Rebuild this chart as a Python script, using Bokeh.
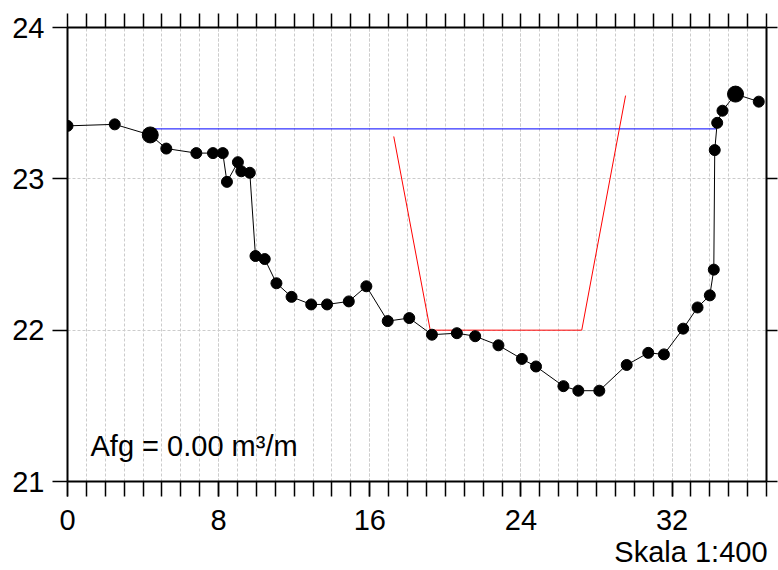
from bokeh.plotting import figure
from bokeh.models import Range1d, LinearAxis, SingleIntervalTicker, Label, Grid, FixedTicker
from bokeh.embed import file_html
from bokeh.resources import INLINE

# ---- data ----
dist = [0, 2.5, 4.38, 5.23, 6.82, 7.70, 8.22, 8.44, 9.02, 9.20, 9.65, 9.95, 10.44,
        11.06, 11.86, 12.90, 13.74, 14.89, 15.82, 16.95, 18.09, 19.29, 20.61, 21.58,
        22.81, 24.05, 24.80, 26.25, 27.04, 28.15, 29.60, 30.74, 31.57, 32.59, 33.35,
        34.00, 34.21, 34.26, 34.39, 34.67, 35.36, 36.59]
elev = [23.35, 23.36, 23.29, 23.20, 23.17, 23.17, 23.17, 22.98, 23.11, 23.05, 23.04,
        22.49, 22.47, 22.31, 22.22, 22.17, 22.17, 22.19, 22.29, 22.06, 22.08, 21.97,
        21.98, 21.96, 21.90, 21.81, 21.76, 21.63, 21.60, 21.60, 21.77, 21.85, 21.84,
        22.01, 22.15, 22.23, 22.40, 23.19, 23.37, 23.45, 23.56, 23.51]
key_points = [2, 40]          # indices of the larger markers
water_x = [4.38, 34.37]
water_level = 23.33
design_x = [17.27, 19.20, 27.22, 29.54]
design_y = [23.28, 22.00, 22.00, 23.55]
x_labels = [0, 8, 16, 24, 32]
y_ticks = [21, 22, 23, 24]
unit_ticks = list(range(0, 38))
annotation = "Afg = 0.00 m³/m"
scale_text = "Skala 1:400"
scale_anchor = 33   # x where the scale note is centred

FONT = "Liberation Sans"
FS = "29px"

p = figure(width=778, height=570, x_range=Range1d(0, 37), y_range=Range1d(21, 24),
           output_backend="svg", toolbar_location=None,
           x_axis_location=None, y_axis_location=None,
           min_border_left=67, min_border_right=12, min_border_top=27, min_border_bottom=89)
p.outline_line_color = None
p.background_fill_color = "white"
p.border_fill_color = "white"

p.xgrid.visible = False
p.ygrid.visible = False

xt = SingleIntervalTicker(interval=8, num_minor_ticks=8)
yt = FixedTicker(ticks=y_ticks)
unit_ticker = FixedTicker(ticks=unit_ticks)

gx = Grid(dimension=0, ticker=xt, grid_line_color="#cccccc", grid_line_dash="3 2",
          minor_grid_line_color="#cccccc", minor_grid_line_dash="3 2")
gy = Grid(dimension=1, ticker=yt, grid_line_color="#cccccc", grid_line_dash="3 2")
p.add_layout(gx, "center")
p.add_layout(gy, "center")

def style(ax, tick_len=15):
    ax.axis_line_color = "black"
    ax.axis_line_width = 2
    ax.major_tick_line_color = "black"
    ax.major_tick_line_width = 1.5
    ax.minor_tick_line_color = "black"
    ax.minor_tick_line_width = 1.5
    ax.major_tick_in = 0
    ax.major_tick_out = tick_len
    ax.minor_tick_in = 0
    ax.minor_tick_out = tick_len
    ax.major_label_text_font = FONT
    ax.major_label_text_font_size = FS
    ax.major_label_text_color = "black"

bottom = LinearAxis(ticker=xt)
style(bottom)
bottom.major_label_standoff = 13
bottom.major_label_overrides = {v: str(v) for v in x_labels}
p.add_layout(bottom, "below")

# scale note as a label-only axis below the x axis
note_axis = LinearAxis(ticker=FixedTicker(ticks=[scale_anchor], minor_ticks=[]))
note_axis.axis_line_color = None
note_axis.major_tick_line_color = None
note_axis.minor_tick_line_color = None
note_axis.major_tick_in = 0
note_axis.major_tick_out = 0
note_axis.minor_tick_in = 0
note_axis.minor_tick_out = 0
note_axis.major_label_standoff = 3
note_axis.major_label_text_font = FONT
note_axis.major_label_text_font_size = FS
note_axis.major_label_text_color = "black"
note_axis.major_label_overrides = {scale_anchor: scale_text}
p.add_layout(note_axis, "below")

top = LinearAxis(ticker=unit_ticker)
style(top, tick_len=14)
top.major_label_overrides = {v: "" for v in unit_ticks}
top.major_label_standoff = 0
p.add_layout(top, "above")

left = LinearAxis(ticker=yt)
style(left)
left.major_label_standoff = 8
left.minor_tick_out = 0
p.add_layout(left, "left")

right = LinearAxis(ticker=yt)
style(right, tick_len=11)
right.major_label_overrides = {v: "" for v in y_ticks}
right.major_label_standoff = 0
right.minor_tick_out = 0
p.add_layout(right, "right")

# water level
p.line(water_x, [water_level] * len(water_x), line_color="#0000ff", line_width=1)
# design profile
p.line(design_x, design_y, line_color="#ff0000", line_width=1)
# terrain
p.line(dist, elev, line_color="black", line_width=1)
sizes = [16 if i in key_points else 11 for i in range(len(dist))]
p.scatter(x=dist, y=elev, size=sizes, fill_color="black", line_color="black")

p.add_layout(Label(x=23, y=36, x_units="screen", y_units="screen", text=annotation,
                   text_font=FONT, text_font_size=FS, text_color="black",
                   text_baseline="alphabetic", text_align="left"))

open("out.html", "w").write(file_html(p, INLINE))
